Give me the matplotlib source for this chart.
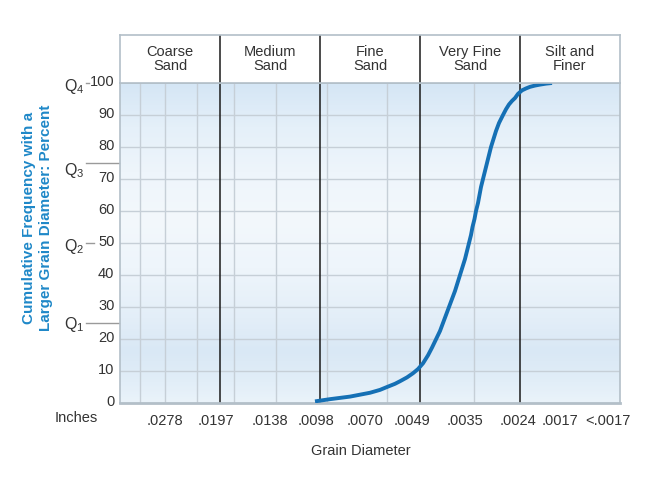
import matplotlib
matplotlib.use("Agg")
import matplotlib.pyplot as plt
import matplotlib.transforms as mtransforms
from matplotlib.colors import LinearSegmentedColormap
import numpy as np

plt.rcParams['font.family'] = ['Liberation Sans', 'DejaVu Sans']
plt.rcParams['mathtext.fontset'] = 'custom'
plt.rcParams['mathtext.rm'] = 'Liberation Sans'

# size classes along the x axis (1 unit = one size class, phi-like scale)
classes = ['Coarse\nSand', 'Medium\nSand', 'Fine\nSand', 'Very Fine\nSand', 'Silt and\nFiner']
class_edges = [1, 2, 3, 4]
size_labels = ['.0278', '.0197', '.0138', '.0098', '.0070', '.0049', '.0035', '.0024', '.0017', '<.0017']
size_pos = [0.45, 0.96, 1.5, 1.96, 2.45, 2.92, 3.45, 3.98, 4.4, 4.88]
minor_grid = [0.2, 0.45, 0.77, 1.14, 1.56, 2.07, 2.67, 3.54]

# cumulative frequency curve
curve_phi = [1.95, 2.1, 2.2, 2.3, 2.4, 2.5, 2.6, 2.67, 2.75, 2.8, 2.87, 2.93, 2.98,
             3.03, 3.08, 3.12, 3.16, 3.2, 3.23, 3.26, 3.29, 3.32, 3.35, 3.375, 3.40,
             3.425, 3.45, 3.47, 3.49, 3.51, 3.525, 3.545, 3.56, 3.58, 3.595, 3.61,
             3.63, 3.65, 3.67, 3.69, 3.71, 3.735, 3.76, 3.79, 3.83, 3.86, 3.89,
             3.92, 3.95, 3.98, 4.02, 4.06, 4.1, 4.15, 4.2, 4.26, 4.32]
curve_pct = [0.5, 1.2, 1.6, 2.0, 2.6, 3.2, 4.1, 5.0, 6.0, 6.8, 8.0, 9.3, 10.6,
             12.4, 14.9, 17.3, 19.9, 22.5, 25, 27.5, 30, 32.5, 35, 37.5, 40,
             42.5, 45, 47.5, 50, 52.5, 55, 57.5, 60, 62.5, 65, 67.5,
             70, 72.5, 75, 77.5, 80, 82.5, 85, 87.5, 90, 91.8, 93.3,
             94.4, 95.3, 96.6, 97.7, 98.3, 98.8, 99.2, 99.5, 99.8, 100]

quartiles = ['Q$_1$', 'Q$_2$', 'Q$_3$', 'Q$_4$']
quart_pct = [25, 50, 75, 100]

txt = '#333333'
grid_c = '#c6cfd7'
border = '#b3bfc8'
blue = '#1f88c8'

fig = plt.figure(figsize=(6.48, 4.86), dpi=100)
ax = fig.add_axes([120 / 648, 83 / 486, 500 / 648, 320 / 486])
hx = fig.add_axes([120 / 648, 403 / 486, 500 / 648, 48 / 486])

# soft blue background bands
bg = LinearSegmentedColormap.from_list('bg', [
    (0.0, '#eaf3fa'), (0.06, '#e2eef8'), (0.16, '#d9e8f5'), (0.26, '#e3eef8'),
    (0.42, '#eef5fb'), (0.58, '#f3f8fc'), (0.72, '#eef5fb'), (0.86, '#e5f0f9'),
    (1.0, '#d5e6f5')])
ax.imshow(np.linspace(0, 1, 200).reshape(-1, 1), cmap=bg, origin='lower',
          extent=[0, 5, 0, 100], aspect='auto', zorder=0)

for y in range(10, 100, 10):
    ax.axhline(y, color=grid_c, lw=1, zorder=1)
for x in minor_grid:
    ax.axvline(x, color=grid_c, lw=1, zorder=1)
for x in class_edges:
    ax.axvline(x, color='#1a1a1a', lw=1.1, zorder=2)

ax.plot(curve_phi, curve_pct, color='#1570b5', lw=2.8, zorder=3,
        solid_capstyle='butt', solid_joinstyle='round')

ax.set_xlim(0, 5)
ax.set_ylim(0, 100)
for s in ax.spines.values():
    s.set_color(border)
    s.set_linewidth(1.2)
ax.spines['bottom'].set_linewidth(2)

ax.set_yticks(range(0, 101, 10))
ax.tick_params(axis='y', length=0, pad=4, labelsize=10.5, labelcolor=txt)
shift = mtransforms.ScaledTranslation(0, 0.03, fig.dpi_scale_trans)
for lab in ax.get_yticklabels():
    lab.set_transform(lab.get_transform() + shift)

ax.set_xticks(size_pos, size_labels)
ax.tick_params(axis='x', length=0, pad=8, labelsize=10.5, labelcolor=txt)

# header with class names
hx.set_xlim(0, 5)
hx.set_ylim(0, 1)
hx.set_xticks([])
hx.set_yticks([])
for s in hx.spines.values():
    s.set_color(border)
    s.set_linewidth(1.2)
for x in class_edges:
    hx.axvline(x, color='#1a1a1a', lw=1.1)
for i, name in enumerate(classes):
    hx.text(i + 0.5, 0.5, name, ha='center', va='center', fontsize=10.5,
            color=txt, linespacing=1.0)

# quartile markers on the left
trans = mtransforms.blended_transform_factory(fig.transFigure, ax.transData)
q_off = [0.6, 1.0, 2.4, 1.2]
for q, p, o in zip(quartiles, quart_pct, q_off):
    ax.text(64 / 648, p - o, q, transform=trans, ha='left', va='center',
            fontsize=11.5, color=txt, clip_on=False)
ax.plot([86 / 648, 119 / 648], [75, 75], transform=trans, color='#9a9a9a', lw=1, clip_on=False)
ax.plot([86 / 648, 119 / 648], [25, 25], transform=trans, color='#9a9a9a', lw=1, clip_on=False)
ax.plot([86 / 648, 94 / 648], [50, 50], transform=trans, color='#9a9a9a', lw=1, clip_on=False)
ax.plot([86 / 648, 89 / 648], [100, 100], transform=trans, color='#9a9a9a', lw=1, clip_on=False)

fig.text(37.5 / 648, 1 - 218 / 486,
         'Cumulative Frequency with a\nLarger Grain Diameter: Percent',
         rotation=90, ha='center', va='center', color=blue, fontsize=11,
         fontweight='bold', linespacing=1.2)
fig.text(55 / 648, 1 - 418 / 486, 'Inches', ha='left', va='center', fontsize=10.5, color=txt)
fig.text(361 / 648, 1 - 451 / 486, 'Grain Diameter', ha='center', va='center',
         fontsize=10.5, color=txt)

fig.savefig('out.png', dpi=100)
